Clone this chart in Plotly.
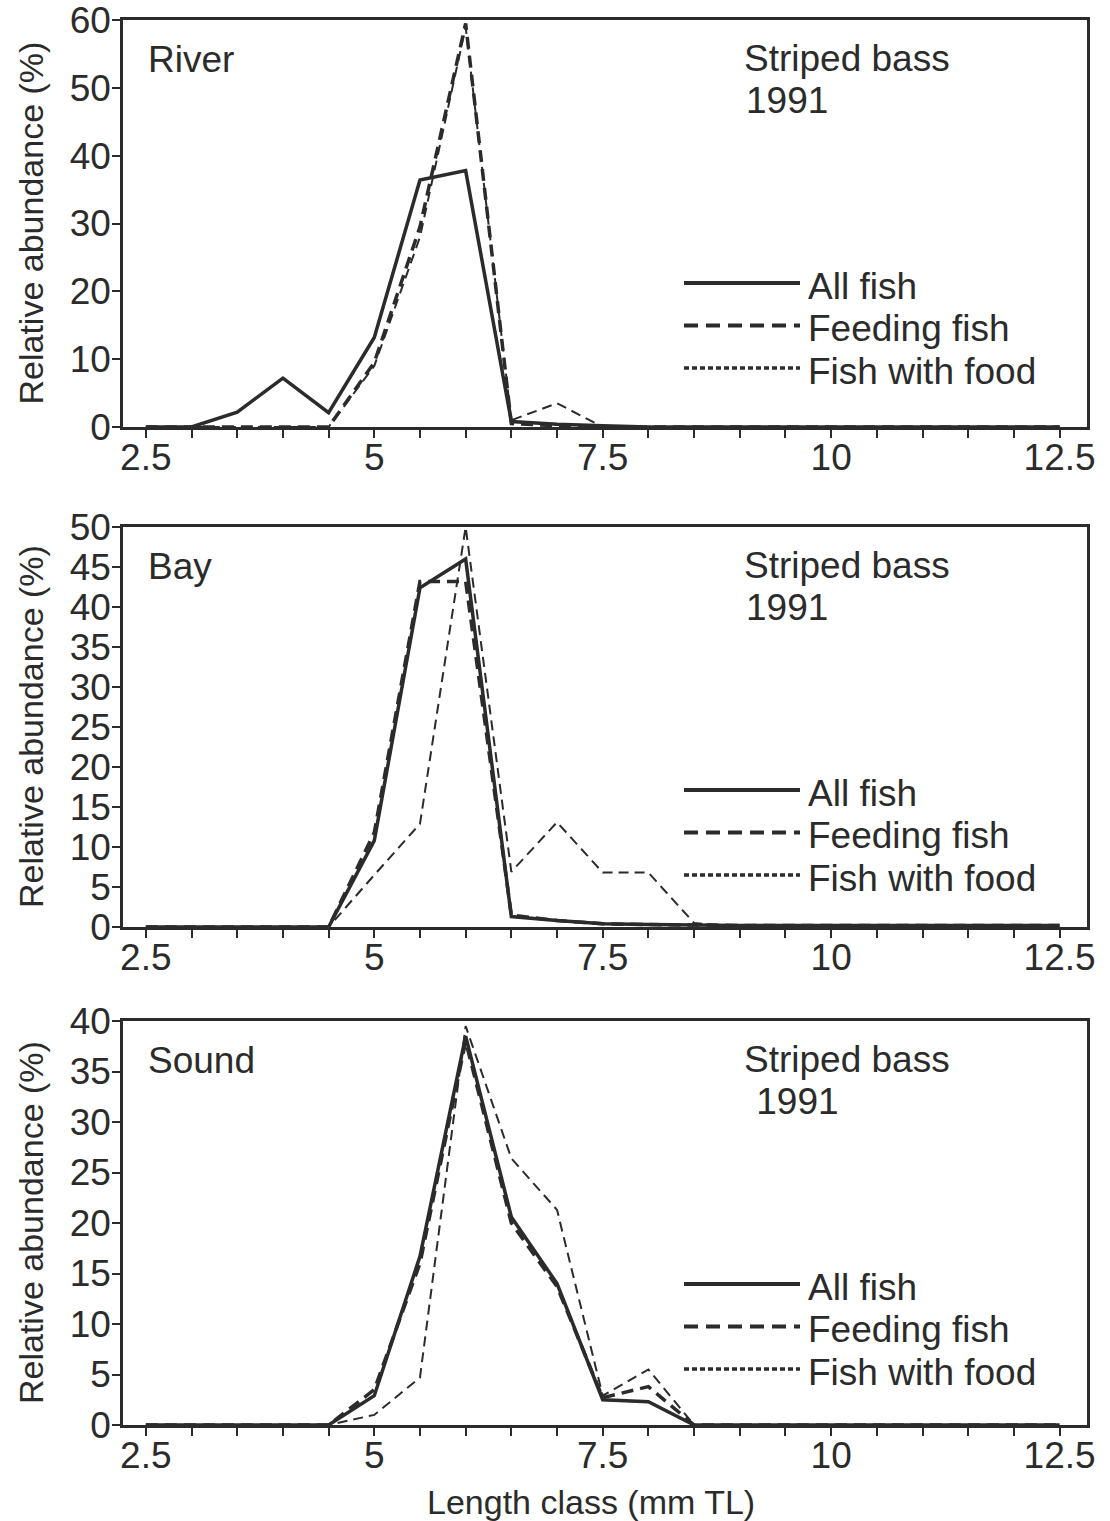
import plotly.graph_objects as go

W, H = 1110, 1521

# ---------------- data ----------------
length_class = [2.5, 3.0, 3.5, 4.0, 4.5, 5.0, 5.5, 6.0, 6.5, 7.0, 7.5,
                8.0, 8.5, 9.0, 9.5, 10.0, 10.5, 11.0, 11.5, 12.0, 12.5]

river_all     = [0, 0, 2.2, 7.2, 2.1, 13.2, 36.4, 37.8, 0.8, 0.4, 0.2, 0, 0, 0, 0, 0, 0, 0, 0, 0, 0]
river_feeding = [0, 0, 0, 0, 0, 9.5, 29.5, 59.5, 0.5, 0.2, 0, 0, 0, 0, 0, 0, 0, 0, 0, 0, 0]
river_food    = [0, 0, 0, 0, 0, 9.0, 28.0, 59.0, 1.0, 3.5, 0, 0, 0, 0, 0, 0, 0, 0, 0, 0, 0]

bay_all     = [0, 0, 0, 0, 0, 10.8, 42.4, 46.0, 1.3, 0.8, 0.4, 0.3, 0.2, 0.2, 0.2, 0.2, 0.2, 0.2, 0.2, 0.2, 0.2]
bay_feeding = [0, 0, 0, 0, 0, 11.8, 43.2, 43.2, 1.5, 0.8, 0.4, 0.3, 0.2, 0.2, 0.2, 0.2, 0.2, 0.2, 0.2, 0.2, 0.2]
bay_food    = [0, 0, 0, 0, 0, 6.5, 12.9, 50.0, 6.9, 13.1, 6.8, 6.8, 0.5, 0, 0, 0, 0, 0, 0, 0, 0]

sound_all     = [0, 0, 0, 0, 0, 2.9, 16.7, 38.5, 20.6, 14.0, 2.5, 2.3, 0, 0, 0, 0, 0, 0, 0, 0, 0]
sound_feeding = [0, 0, 0, 0, 0, 3.5, 16.0, 38.0, 20.0, 13.7, 2.7, 3.8, 0, 0, 0, 0, 0, 0, 0, 0, 0]
sound_food    = [0, 0, 0, 0, 0, 1.0, 4.7, 39.5, 26.4, 21.3, 2.9, 5.5, 0, 0, 0, 0, 0, 0, 0, 0, 0]

panel_names = ["River", "Bay", "Sound"]
species_label = "Striped bass"
year_labels = ["1991", "1991", " 1991"]
y_maxes = [60, 50, 40]
y_dticks = [10, 5, 5]
series_names = ["All fish", "Feeding fish", "Fish with food"]
x_ticks = [2.5, 5, 7.5, 10, 12.5]
x_title = "Length class (mm TL)"
y_title = "Relative abundance (%)"

panels = [
    (river_all, river_feeding, river_food),
    (bay_all, bay_feeding, bay_food),
    (sound_all, sound_feeding, sound_food),
]

# ---------------- styling ----------------
INK = "#2b2b2b"
FONT = "Liberation Sans, Arial, Helvetica, sans-serif"


def px(x):
    return x / W


def py(y):
    return 1 - y / H


# pixel boxes of the plot areas (top, bottom)
x_left, x_right = 123, 1087
boxes = [(20, 427), (527, 927), (1021, 1425)]

line_styles = [
    dict(color=INK, width=3.5, dash="solid"),
    dict(color=INK, width=3.5, dash="12px,7px"),
    dict(color=INK, width=2.0, dash="10px,6px"),
]
legend_styles = [
    dict(color=INK, width=4, dash="solid"),
    dict(color=INK, width=4, dash="14px,8px"),
    dict(color=INK, width=3.5, dash="5px,3px"),
]

fig = go.Figure()
layout = dict(
    width=W, height=H,
    margin=dict(l=0, r=0, t=0, b=0, autoexpand=False),
    paper_bgcolor="white", plot_bgcolor="white",
    showlegend=False,
    font=dict(family=FONT, size=37, color=INK),
)
annotations = []
shapes = []

for i, (series, (top, bot)) in enumerate(zip(panels, boxes)):
    k = "" if i == 0 else str(i + 1)
    xa, ya = "x" + k, "y" + k
    for s, name, st in zip(series, series_names, line_styles):
        fig.add_trace(go.Scatter(x=length_class, y=s, mode="lines", name=name,
                                 line=st, xaxis=xa, yaxis=ya, showlegend=False,
                                 hoverinfo="skip", cliponaxis=False))
    layout["xaxis" + k] = dict(
        domain=[px(x_left), px(x_right)], anchor=ya, automargin=False,
        range=[2.25, 12.80], tickmode="array", tickvals=x_ticks,
        ticktext=[("%g" % v) for v in x_ticks],
        ticks="outside", ticklen=8, tickwidth=2, tickcolor=INK,
        minor=dict(tick0=2.5, dtick=0.5, ticks="outside", ticklen=8,
                   tickwidth=2, tickcolor=INK, showgrid=False),
        showline=True, linewidth=2.5, linecolor=INK, mirror=True,
        showgrid=False, zeroline=False,
        ticklabelstandoff=-12, ticklabeloverflow="allow",
        tickfont=dict(family=FONT, size=37, color=INK),
    )
    layout["yaxis" + k] = dict(
        domain=[py(bot), py(top)], anchor=xa, automargin=False,
        range=[0, y_maxes[i]], tick0=0, dtick=y_dticks[i],
        ticks="outside", ticklen=8, tickwidth=2, tickcolor=INK,
        showline=True, linewidth=2.5, linecolor=INK, mirror=True,
        showgrid=False, zeroline=False,
        ticklabelstandoff=-6, ticklabeloverflow="allow",
        tickfont=dict(family=FONT, size=37, color=INK),
    )
    # panel labels
    annotations.append(dict(x=px(146), y=py(top + 39), xref="paper", yref="paper",
                            text=panel_names[i], showarrow=False,
                            xanchor="left", yanchor="middle",
                            font=dict(family=FONT, size=37, color=INK)))
    annotations.append(dict(x=px(742), y=py(top + 38), xref="paper", yref="paper",
                            text=species_label, showarrow=False,
                            xanchor="left", yanchor="middle",
                            font=dict(family=FONT, size=37, color=INK)))
    annotations.append(dict(x=px(744), y=py(top + 80), xref="paper", yref="paper",
                            text=year_labels[i], showarrow=False,
                            xanchor="left", yanchor="middle",
                            font=dict(family=FONT, size=37, color=INK)))
    # y title
    annotations.append(dict(x=px(31), y=py((top + bot) / 2), xref="paper", yref="paper",
                            text=y_title, showarrow=False, textangle=-90,
                            xanchor="center", yanchor="middle",
                            font=dict(family=FONT, size=34, color=INK)))
    # legend (drawn as shapes + text)
    leg_y0 = top + 263
    for j, (name, st) in enumerate(zip(series_names, legend_styles)):
        yy = leg_y0 + j * 42.5
        shapes.append(dict(type="line", xref="paper", yref="paper",
                           x0=px(684), x1=px(800), y0=py(yy), y1=py(yy),
                           line=st))
        annotations.append(dict(x=px(806), y=py(yy + 3), xref="paper", yref="paper",
                                text=name, showarrow=False,
                                xanchor="left", yanchor="middle",
                                font=dict(family=FONT, size=37, color=INK)))

annotations.append(dict(x=px(591), y=py(1502), xref="paper", yref="paper",
                        text=x_title, showarrow=False,
                        xanchor="center", yanchor="middle",
                        font=dict(family=FONT, size=34, color=INK)))

layout["annotations"] = annotations
layout["shapes"] = shapes
fig.update_layout(**layout)
fig.write_html("out.html")
